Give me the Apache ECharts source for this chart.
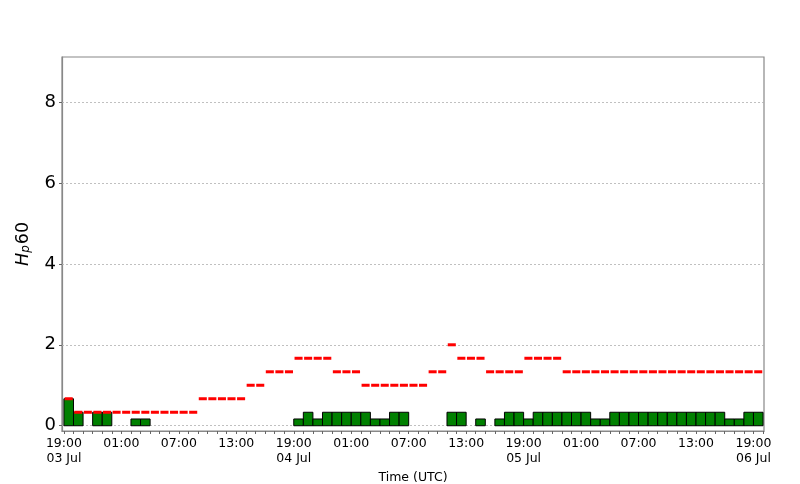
<!DOCTYPE html>
<html><head><meta charset="utf-8">
<script src="https://cdn.jsdelivr.net/npm/echarts@6/dist/echarts.min.js"></script>
<style>html,body{margin:0;padding:0;background:#fff}#c{width:800px;height:484px}</style>
</head><body><div id="c"></div>
<script>
// hours since 03 Jul 19:00 UTC (one entry per hourly interval)
const hours = [];
for (let h = 0; h <= 72; h++) hours.push(h);

// observed Hp60 (green bars)
const hp60 = [
  0.667,0.333,0,0.333,0.333,0,0,0.167,0.167,
  0,0,0,0,0,0,0,0,0,0,0,0,0,0,0,
  0.167,0.333,0.167,0.333,0.333,0.333,0.333,0.333,0.167,0.167,0.333,0.333,
  0,0,0,0,
  0.333,0.333,0,0.167,0,0.167,0.333,0.333,
  0.167,0.333,0.333,0.333,0.333,0.333,0.333,0.167,0.167,
  0.333,0.333,0.333,0.333,0.333,0.333,0.333,0.333,0.333,0.333,0.333,0.333,
  0.167,0.167,0.333,0.333
];

// red dashes
const hp60Red = [
  0.667,
  0.333,0.333,0.333,0.333,0.333,0.333,0.333,0.333,0.333,0.333,0.333,0.333,0.333,
  0.667,0.667,0.667,0.667,0.667,
  1,1,
  1.333,1.333,1.333,
  1.667,1.667,1.667,1.667,
  1.333,1.333,1.333,
  1,1,1,1,1,1,1,
  1.333,1.333,
  2,
  1.667,1.667,1.667,
  1.333,1.333,1.333,1.333,
  1.667,1.667,1.667,1.667,
  1.333,1.333,1.333,1.333,1.333,1.333,1.333,1.333,1.333,1.333,1.333,
  1.333,1.333,1.333,1.333,1.333,1.333,1.333,1.333,1.333,1.333
];

const xTickHours = [0,6,12,18,24,30,36,42,48,54,60,66,72];
const xTickLabels = ['19:00\n03 Jul','01:00','07:00','13:00','19:00\n04 Jul','01:00','07:00','13:00',
                     '19:00\n05 Jul','01:00','07:00','13:00','19:00\n06 Jul'];
const minorTickHours = [];
for (let h = 0; h <= 73; h++) minorTickHours.push(h);
const yTicks = [0,2,4,6,8];

const FONT = 'DejaVu Sans';
const chart = echarts.init(document.getElementById('c'), null, {renderer: 'canvas'});

const barData = hours.map((h, i) => [h, hp60[i]]);
const redData = hours.map((h, i) => [h, hp60Red[i]]);

chart.setOption({
  animation: false,
  backgroundColor: '#fff',
  grid: {left: 62, right: 36, top: 57, bottom: 53, show: true, borderColor: '#888', borderWidth: 1.2,
         backgroundColor: 'transparent', containLabel: false, outerBoundsMode: 'none'},
  xAxis: {
    type: 'value', min: -0.2, max: 73.1,
    name: 'Time (UTC)', nameLocation: 'middle', nameGap: 35,
    nameTextStyle: {fontFamily: FONT, fontSize: 12.5, color: '#000'},
    axisLine: {show: true, onZero: false, lineStyle: {color: '#888', width: 1.2}},
    axisTick: {show: true, length: 3, customValues: minorTickHours, lineStyle: {color: '#666', width: 1}},
    axisLabel: {
      customValues: xTickHours, margin: 5, fontFamily: FONT, fontSize: 12.5, color: '#000', lineHeight: 15,
      formatter: v => { const k = xTickHours.indexOf(Math.round(v)); return k >= 0 ? xTickLabels[k] : ''; }
    },
    splitLine: {show: false}
  },
  yAxis: {
    type: 'value', min: -0.13, max: 9.11,
    name: '{i|H}{s|p}{n|60}', nameLocation: 'middle', nameGap: 30,
    nameTextStyle: {
      color: '#000',
      rich: {
        i: {fontFamily: FONT, fontStyle: 'italic', fontSize: 17.5, color: '#000', verticalAlign: 'bottom', lineHeight: 21},
        s: {fontFamily: FONT, fontStyle: 'italic', fontSize: 12, color: '#000', verticalAlign: 'bottom', lineHeight: 15, padding: [0, 1, 0, 0]},
        n: {fontFamily: FONT, fontSize: 17.5, color: '#000', verticalAlign: 'bottom', lineHeight: 21}
      }
    },
    axisLine: {show: true, onZero: false, lineStyle: {color: '#888', width: 1.2}},
    axisTick: {show: true, length: 3, customValues: yTicks, lineStyle: {color: '#666'}},
    axisLabel: {customValues: yTicks, margin: 6, fontFamily: FONT, fontSize: 18, color: '#000'},
    splitLine: {show: false}
  },
  series: [
    {
      type: 'custom', data: barData, clip: true, z: 2,
      encode: {x: 0, y: 1},
      renderItem: (params, api) => {
        const h = api.value(0), v = api.value(1);
        if (!(v > 0)) return null;
        const p0 = api.coord([h, 0]), p1 = api.coord([h + 1, v]);
        return {type: 'rect', shape: {x: p0[0], y: p1[1], width: p1[0] - p0[0], height: p0[1] - p1[1]},
                style: {fill: '#008000', stroke: '#000', lineWidth: 1}};
      },
      markLine: {
        silent: true, symbol: 'none', label: {show: false}, z: 1,
        lineStyle: {color: '#b0b0b0', type: [2, 2], width: 0.8},
        data: yTicks.map(t => ({yAxis: t}))
      }
    },
    {
      type: 'custom', data: redData, clip: true, z: 3,
      encode: {x: 0, y: 1},
      renderItem: (params, api) => {
        const h = api.value(0), v = api.value(1);
        const a = api.coord([h + 0.08, v]), b = api.coord([h + 0.92, v]);
        return {type: 'line', shape: {x1: a[0], y1: a[1], x2: b[0], y2: b[1]},
                style: {stroke: '#ff0000', lineWidth: 3, lineCap: 'butt'}};
      }
    }
  ]
});
</script>
</body></html>
